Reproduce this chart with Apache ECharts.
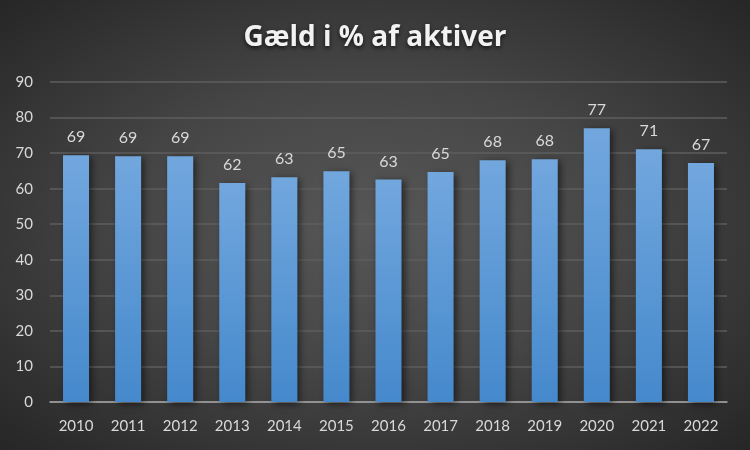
<!DOCTYPE html>
<html><head><meta charset="utf-8">
<script src="https://cdn.jsdelivr.net/npm/echarts@6/dist/echarts.min.js"></script>
<style>
html,body{margin:0;padding:0;}
#c{width:750px;height:450px;background:radial-gradient(ellipse at 50% 50%, #575757 0%, #464646 45%, #262626 100%);}
</style></head>
<body><div id="c"></div>
<script>
const years = ['2010','2011','2012','2013','2014','2015','2016','2017','2018','2019','2020','2021','2022'];
const values = [69.4, 69.1, 69.1, 61.6, 63.2, 64.9, 62.6, 64.7, 68.0, 68.3, 77.0, 71.1, 67.2];
const yTicks = {min: 0, max: 90, interval: 10};
const titleText = 'Gæld i % af aktiver';

const chart = echarts.init(document.getElementById('c'));
chart.setOption({
  backgroundColor: 'transparent',
  animation: false,
  title: {
    text: titleText,
    left: 'center',
    top: 19,
    textStyle: {
      color: '#f2f2f2', fontFamily: 'Open Sans', fontWeight: 'bold', fontSize: 28,
      textShadowColor: 'rgba(0,0,0,0.7)', textShadowBlur: 4, textShadowOffsetY: 2
    }
  },
  grid: {left: 50, right: 23, top: 82, bottom: 48},
  xAxis: {
    type: 'category', data: years,
    axisLine: {lineStyle: {color: '#a6a6a6', width: 1.5}},
    axisTick: {show: false},
    axisLabel: {color: '#d9d9d9', fontFamily: 'Lato', fontSize: 15, margin: 17}
  },
  yAxis: {
    type: 'value', min: yTicks.min, max: yTicks.max, interval: yTicks.interval,
    axisLine: {show: false}, axisTick: {show: false},
    axisLabel: {color: '#d9d9d9', fontFamily: 'Lato', fontSize: 15, margin: 17},
    splitLine: {lineStyle: {color: '#5e5e5e', width: 1.5}}
  },
  series: [{
    type: 'bar', data: values, barWidth: '50%',
    itemStyle: {
      color: new echarts.graphic.LinearGradient(0, 0, 0, 1, [
        {offset: 0, color: '#72a7de'}, {offset: 1, color: '#4589cc'}
      ]),
      shadowColor: 'rgba(0,0,0,0.55)', shadowBlur: 7, shadowOffsetX: 3, shadowOffsetY: 2
    },
    label: {
      show: true, position: 'top', distance: 10,
      color: '#d9d9d9', fontFamily: 'Lato', fontSize: 16,
      formatter: p => Math.round(p.value)
    }
  }]
});
</script></body></html>
